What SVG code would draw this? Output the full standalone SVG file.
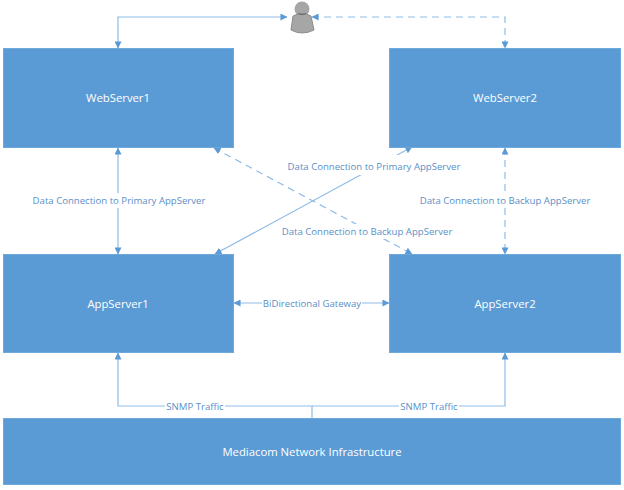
<svg xmlns="http://www.w3.org/2000/svg" width="624" height="490" viewBox="0 0 624 490">
<style>
.box{fill:#5b9bd5;stroke:#6fa8da;stroke-width:1}
.t{font-family:"Open Sans","Noto Sans","Liberation Sans",sans-serif;fill:#fff;font-size:11.3px;text-anchor:middle}
.l{font-family:"Open Sans","Noto Sans","Liberation Sans",sans-serif;fill:#5b8fc8;font-size:9.6px;text-anchor:middle}
.c{fill:none;stroke:#8fbce6;stroke-width:1.2}
.d{stroke-dasharray:7 5}
.lb{fill:#fff;stroke:none}
</style>
<defs>
<marker id="a" viewBox="0 0 8 8" refX="7.5" refY="4" markerWidth="7" markerHeight="7" markerUnits="userSpaceOnUse" orient="auto-start-reverse"><path d="M0 0L8 4L0 8Z" fill="#5b9bd5"/></marker>
</defs>
<g id="connectors">
<path class="c" d="M287 17H118V48" marker-start="url(#a)" marker-end="url(#a)"/>
<path class="c d" d="M312 17H505V48" marker-start="url(#a)" marker-end="url(#a)"/>
<path class="c" d="M118 148V254" marker-start="url(#a)" marker-end="url(#a)"/>
<path class="c d" d="M505 148V254" marker-start="url(#a)" marker-end="url(#a)"/>
<path class="c" d="M412 147L215 254" marker-start="url(#a)" marker-end="url(#a)"/>
<path class="c d" d="M214 148L412 254" marker-start="url(#a)" marker-end="url(#a)"/>
<path class="c" d="M234 303H389" marker-start="url(#a)" marker-end="url(#a)"/>
<path class="c" d="M312 418V406H118V353" marker-end="url(#a)"/>
<path class="c" d="M312 406H505V353" marker-end="url(#a)"/>
</g>
<g id="edge-labels">
<rect class="lb" x="31" y="193" width="176" height="15"/><text class="l" x="119" y="204">Data Connection to Primary AppServer</text>
<rect class="lb" x="418" y="193" width="173" height="15"/><text class="l" x="505" y="204">Data Connection to Backup AppServer</text>
<rect class="lb" x="286" y="155" width="176" height="20"/><text class="l" x="374" y="170">Data Connection to Primary AppServer</text>
<rect class="lb" x="281" y="224" width="173" height="15"/><text class="l" x="367" y="235">Data Connection to Backup AppServer</text>
<rect class="lb" x="262" y="297" width="100" height="14"/><text class="l" x="312" y="307">BiDirectional Gateway</text>
<rect class="lb" x="165" y="400" width="60" height="13"/><text class="l" x="195" y="410">SNMP Traffic</text>
<rect class="lb" x="399" y="400" width="60" height="13"/><text class="l" x="429" y="410">SNMP Traffic</text>
</g>
<g id="user">
<circle cx="302" cy="9" r="7.5" fill="#a6a6a6"/>
<path d="M293 16Q302 11 311 16L314 30Q302 36 291 30Z" fill="#a6a6a6" stroke="#8c8c8c" stroke-width="1"/>
<path d="M298 13.500Q302 16 306 13.500" fill="none" stroke="#666" stroke-width="1"/>
</g>
<g id="WebServer1"><rect class="box" x="3.500" y="48.500" width="230" height="99"/><text class="t" x="118" y="102">WebServer1</text></g>
<g id="WebServer2"><rect class="box" x="389.500" y="48.500" width="231" height="99"/><text class="t" x="505" y="102">WebServer2</text></g>
<g id="AppServer1"><rect class="box" x="3.500" y="254.500" width="230" height="98"/><text class="t" x="118" y="308">AppServer1</text></g>
<g id="AppServer2"><rect class="box" x="389.500" y="254.500" width="231" height="98"/><text class="t" x="505" y="308">AppServer2</text></g>
<g id="Infrastructure"><rect class="box" x="3.500" y="418.500" width="617" height="66"/><text class="t" x="312" y="456">Mediacom Network Infrastructure</text></g>
</svg>
